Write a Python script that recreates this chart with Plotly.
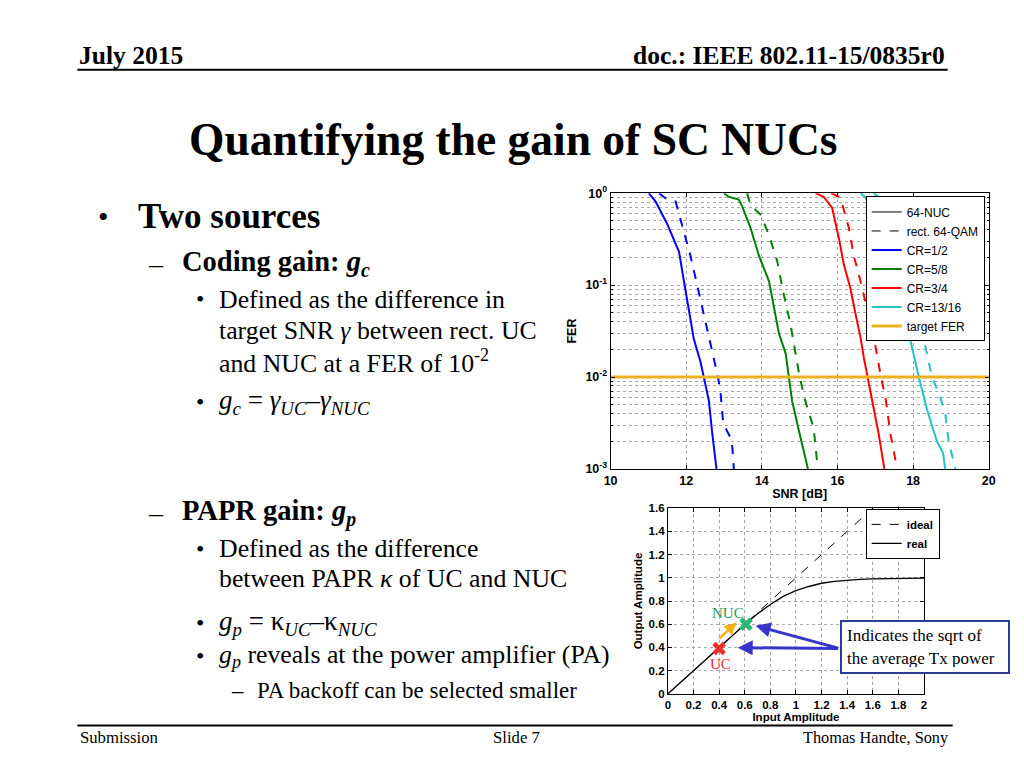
import plotly.graph_objects as go

W, H = 1024, 768
SERIF = "Liberation Serif"
SANS = "Liberation Sans"

# screen mapping correction (page offset / scaling observed in the viewer)
AX, BX = 0.986, 14.6
AY, BY = 0.981, 15.2


def px(x):
    return (x - BX) / (AX * W)


def py(y):
    return 1 - (y - BY) / (AY * H)


# ---------------- FER vs SNR data ----------------
snr_nuc_12 = [11.01, 11.19, 11.50, 11.81, 11.94, 12.07, 12.20, 12.38, 12.47, 12.60, 12.69, 12.80]
fer_nuc_12 = [1.0, 0.81, 0.46, 0.23, 0.11, 0.052, 0.026, 0.0145, 0.010, 0.0055, 0.0024, 0.001]
snr_uc_12 = [11.28, 11.50, 11.72, 11.89, 12.11, 12.29, 12.47, 12.64, 12.78, 12.84, 12.91, 12.98, 13.17, 13.22, 13.26]
fer_uc_12 = [1.0, 0.85, 0.81, 0.46, 0.21, 0.10, 0.048, 0.023, 0.0126, 0.010, 0.0066, 0.0031, 0.0022, 0.0017, 0.001]

snr_nuc_58 = [13.0, 13.13, 13.39, 13.48, 13.70, 13.92, 14.19, 14.32, 14.45, 14.63, 14.71, 14.80, 14.98, 15.22]
fer_nuc_58 = [1.0, 0.91, 0.85, 0.72, 0.42, 0.21, 0.11, 0.056, 0.030, 0.018, 0.010, 0.0055, 0.0026, 0.001]
snr_uc_58 = [13.61, 13.70, 13.96, 14.19, 14.41, 14.58, 14.76, 14.89, 15.0, 15.15, 15.37, 15.48]
fer_uc_58 = [1.0, 0.74, 0.59, 0.35, 0.18, 0.079, 0.037, 0.018, 0.010, 0.0055, 0.0028, 0.001]

snr_nuc_34 = [15.42, 15.64, 15.86, 16.04, 16.17, 16.34, 16.48, 16.61, 16.70, 16.80, 16.92, 17.09, 17.24]
fer_nuc_34 = [1.0, 0.91, 0.69, 0.32, 0.166, 0.093, 0.048, 0.027, 0.016, 0.010, 0.0055, 0.0024, 0.001]
snr_uc_34 = [15.83, 16.08, 16.30, 16.43, 16.61, 16.78, 16.96, 17.09, 17.15, 17.27, 17.40, 17.58]
fer_uc_34 = [1.0, 0.89, 0.42, 0.21, 0.11, 0.056, 0.027, 0.0138, 0.010, 0.006, 0.0024, 0.001]

snr_nuc_1316 = [16.61, 16.74, 17.0, 17.3, 17.55, 17.75, 17.93, 18.15, 18.37, 18.63, 18.79, 18.85]
fer_nuc_1316 = [1.0, 0.9, 0.5, 0.2, 0.08, 0.041, 0.025, 0.010, 0.0044, 0.002, 0.0015, 0.001]
snr_uc_1316 = [16.96, 17.10, 17.4, 17.7, 17.95, 18.15, 18.33, 18.50, 18.72, 18.85, 18.94, 19.12]
fer_uc_1316 = [1.0, 0.9, 0.5, 0.2, 0.08, 0.041, 0.021, 0.010, 0.006, 0.004, 0.002, 0.001]

target_snr = [10, 20]
target_fer = [0.01, 0.01]

cr_names = ["CR=1/2", "CR=5/8", "CR=3/4", "CR=13/16"]
cr_colors = ["#0000ff", "#008000", "#ff0000", "#1fc4c4"]

# ---------------- PA characteristic ----------------
ideal_in = [0, 1.6]
ideal_out = [0, 1.6]
real_in = [0, 0.2, 0.4, 0.5, 0.6, 0.7, 0.8, 0.9, 1.0, 1.1, 1.2, 1.3, 1.4, 1.5, 1.6, 1.8, 2.0]
real_out = [0, 0.2, 0.4, 0.5, 0.598, 0.69, 0.77, 0.84, 0.89, 0.925, 0.953, 0.97, 0.98, 0.986, 0.99, 0.995, 0.997]
uc_point = (0.40, 0.39)
nuc_point = (0.61, 0.60)

fig = go.Figure()

# legend-only style entries
fig.add_trace(go.Scatter(x=[None], y=[None], mode="lines", name="64-NUC",
                         line=dict(color="black", width=1), legend="legend"))
fig.add_trace(go.Scatter(x=[None], y=[None], mode="lines", name="rect. 64-QAM",
                         line=dict(color="black", width=1, dash="dash"), legend="legend"))

pairs = [
    (snr_nuc_12, fer_nuc_12, snr_uc_12, fer_uc_12),
    (snr_nuc_58, fer_nuc_58, snr_uc_58, fer_uc_58),
    (snr_nuc_34, fer_nuc_34, snr_uc_34, fer_uc_34),
    (snr_nuc_1316, fer_nuc_1316, snr_uc_1316, fer_uc_1316),
]
for (xn, yn, xu, yu), name, col in zip(pairs, cr_names, cr_colors):
    fig.add_trace(go.Scatter(x=xn, y=yn, mode="lines", name=name,
                             line=dict(color=col, width=2), legend="legend",
                             xaxis="x", yaxis="y"))
    fig.add_trace(go.Scatter(x=xu, y=yu, mode="lines", name=name + " rect",
                             line=dict(color=col, width=2, dash="dash"),
                             showlegend=False, xaxis="x", yaxis="y"))

fig.add_trace(go.Scatter(x=target_snr, y=target_fer, mode="lines", name="target FER",
                         line=dict(color="#edb120", width=3), legend="legend",
                         xaxis="x", yaxis="y"))

# PA chart
fig.add_trace(go.Scatter(x=ideal_in, y=ideal_out, mode="lines", name="ideal",
                         line=dict(color="black", width=1, dash="dash"),
                         legend="legend2", xaxis="x2", yaxis="y2"))
fig.add_trace(go.Scatter(x=real_in, y=real_out, mode="lines", name="real",
                         line=dict(color="black", width=1.3),
                         legend="legend2", xaxis="x2", yaxis="y2"))
fig.add_trace(go.Scatter(x=[uc_point[0]], y=[uc_point[1]], mode="markers", showlegend=False,
                         marker=dict(symbol="x", size=12, color="#e8312f"),
                         xaxis="x2", yaxis="y2"))
fig.add_trace(go.Scatter(x=[nuc_point[0]], y=[nuc_point[1]], mode="markers", showlegend=False,
                         marker=dict(symbol="x", size=12, color="#2bb673"),
                         xaxis="x2", yaxis="y2"))

grid = dict(showgrid=True, gridcolor="#a8a8a8", griddash="dot", gridwidth=1)


def axis_common(size):
    return dict(showline=True, linecolor="black", linewidth=1, mirror="ticks",
                ticks="inside", ticklen=4, tickcolor="black", zeroline=False,
                tickfont=dict(family=SANS, size=size, color="black", weight="bold"))


fig.update_layout(
    width=W, height=H,
    margin=dict(l=0, r=0, t=0, b=0),
    paper_bgcolor="white", plot_bgcolor="white",
    xaxis=dict(domain=[px(610), px(988)], range=[10, 20], dtick=2, anchor="y",
               title=dict(text="SNR [dB]", standoff=2,
                          font=dict(family=SANS, size=12.5, color="black", weight="bold")),
               **grid, **axis_common(12.5)),
    yaxis=dict(domain=[py(468), py(191.7)], type="log", range=[-3, 0], anchor="x",
               tickvals=[1, 0.1, 0.01, 0.001],
               ticktext=["10<sup>0</sup>", "10<sup>-1</sup>", "10<sup>-2</sup>", "10<sup>-3</sup>"],
               minor=dict(dtick="D1", showgrid=True, gridcolor="#a8a8a8", griddash="dot",
                          ticks="inside", ticklen=2, tickcolor="black"),
               title=dict(text="FER", standoff=6,
                          font=dict(family=SANS, size=12.5, color="black", weight="bold")),
               **grid, **axis_common(12.5)),
    xaxis2=dict(domain=[px(667.3), px(923.3)], range=[0, 2], dtick=0.2, anchor="y2",
                title=dict(text="Input Amplitude", standoff=1,
                           font=dict(family=SANS, size=11.5, color="black", weight="bold")),
                **grid, **axis_common(11.5)),
    yaxis2=dict(domain=[py(693.3), py(507.3)], range=[0, 1.6], dtick=0.2, anchor="x2",
                title=dict(text="Output Amplitude", standoff=3,
                           font=dict(family=SANS, size=11.5, color="black", weight="bold")),
                **grid, **axis_common(11.5)),
    legend=dict(x=px(865), y=py(195), xanchor="left", yanchor="top",
                bgcolor="white", bordercolor="black", borderwidth=1,
                font=dict(family=SANS, size=12, color="black"), tracegroupgap=0),
    legend2=dict(x=px(865), y=py(508), xanchor="left", yanchor="top",
                 bgcolor="white", bordercolor="black", borderwidth=1,
                 font=dict(family=SANS, size=11.5, color="black", weight="bold")),
    showlegend=True,
)

shapes = [
    dict(type="line", xref="paper", yref="paper", x0=px(77), x1=px(947), y0=py(68), y1=py(68),
         line=dict(color="black", width=2)),
    dict(type="line", xref="paper", yref="paper", x0=px(77), x1=px(952), y0=py(725), y1=py(725),
         line=dict(color="black", width=2)),
]
fig.update_layout(shapes=shapes)

ann = []


def text(x, y, t, size, anchor="left", bold=False, color="black", family=SERIF):
    ann.append(dict(xref="paper", yref="paper", x=px(x), y=py(y), xanchor=anchor,
                    yanchor="middle", text=t, showarrow=False,
                    font=dict(family=family, size=size, color=color,
                              weight="bold" if bold else "normal")))


# header / title / footer
text(77, 54, "July 2015", 25.5, bold=True)
text(946, 54, "doc.: IEEE 802.11-15/0835r0", 25.5, anchor="right", bold=True)
text(512, 138, "Quantifying the gain of SC NUCs", 45.5, anchor="center", bold=True)
text(78, 737, "Submission", 16.7)
text(516, 737, "Slide 7", 16.7, anchor="center")
text(950, 737, "Thomas Handte, Sony", 16.3, anchor="right")

# bullet text
BODY = 25.8
text(96, 215, "•", 30)
text(136, 215, "Two sources", 35, bold=True)
text(146, 262, "–", 28)
text(180, 262, "Coding gain: <i>g<sub>c</sub></i>", 28.5, bold=True)
text(194, 298, "•", 24)
text(217, 298, "Defined as the difference in", BODY)
text(217, 329, "target SNR <i>γ</i> between rect. UC", BODY)
text(217, 360, "and NUC at a FER of 10<sup>-2</sup>", BODY)
text(194, 401, "•", 24)
text(217, 401, "<i>g<sub>c</sub></i> = <i>γ<sub>UC</sub></i>–<i>γ<sub>NUC</sub></i>", 27)
text(146, 512, "–", 28)
text(180, 512, "PAPR gain: <i>g<sub>p</sub></i>", 28.5, bold=True)
text(194, 548, "•", 24)
text(217, 548, "Defined as the difference", BODY)
text(217, 578, "between PAPR <i>κ</i> of UC and NUC", BODY)
text(194, 622, "•", 24)
text(217, 622, "<i>g<sub>p</sub></i> = κ<sub><i>UC</i></sub>–κ<sub><i>NUC</i></sub>", 27)
text(194, 655, "•", 24)
text(217, 655, "<i>g<sub>p</sub></i> reveals at the power amplifier (PA)", BODY)
text(229, 690, "–", 23)
text(255, 690, "PA backoff can be selected smaller", 23)

# PA chart labels
ann.append(dict(xref="x2", yref="y2", x=0.466, y=0.70, text="NUC", showarrow=False,
                font=dict(family=SERIF, size=15, color="#1f9a55")))
ann.append(dict(xref="x2", yref="y2", x=0.41, y=0.26, text="UC", showarrow=False,
                font=dict(family=SERIF, size=15, color="#e8312f")))
# orange arrow
ann.append(dict(xref="x2", yref="y2", x=0.538, y=0.617, axref="x2", ayref="y2",
                ax=0.39, ay=0.465, text="", showarrow=True, arrowhead=2,
                arrowsize=1, arrowwidth=2.5, arrowcolor="#f5b31a"))
# blue arrows
ann.append(dict(xref="x2", yref="y2", x=0.685, y=0.587, axref="x2", ayref="y2",
                ax=1.341, ay=0.39, text="", showarrow=True, arrowhead=2,
                arrowsize=1, arrowwidth=3, arrowcolor="#3535c8"))
ann.append(dict(xref="x2", yref="y2", x=0.545, y=0.398, axref="x2", ayref="y2",
                ax=1.341, ay=0.39, text="", showarrow=True, arrowhead=2,
                arrowsize=1, arrowwidth=3, arrowcolor="#3535c8"))
# info box
ann.append(dict(xref="paper", yref="paper", x=px(924.5), y=py(646), xanchor="center",
                yanchor="middle", text="Indicates the sqrt of<br>the average Tx power",
                showarrow=False, align="left", bgcolor="white", bordercolor="#2d3a9a",
                borderwidth=2, borderpad=5, width=156, height=40,
                font=dict(family=SERIF, size=17, color="black")))

fig.update_layout(annotations=ann)

fig.write_html("out.html")
